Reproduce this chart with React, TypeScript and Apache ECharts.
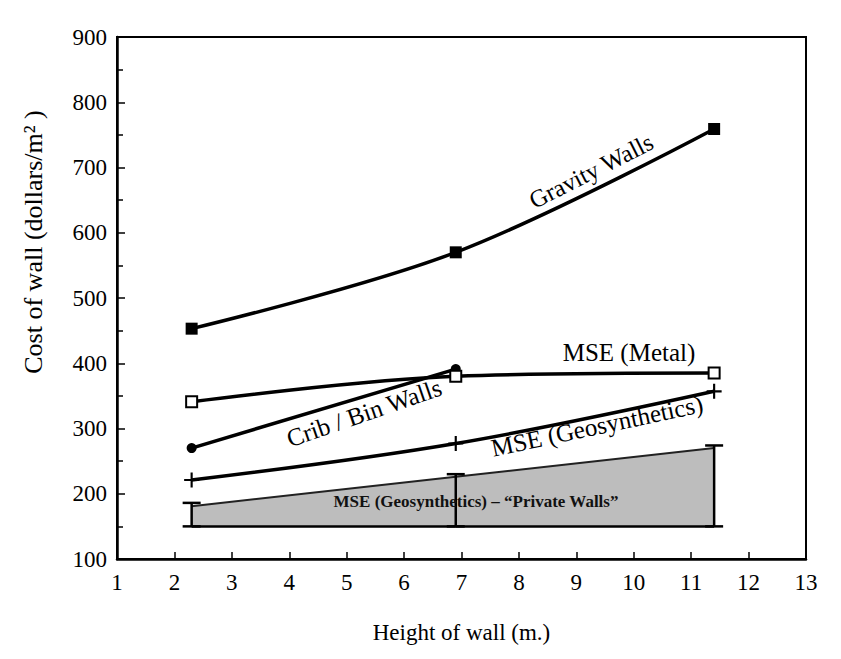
import React, { useEffect, useRef } from "react";
import * as echarts from "echarts";

// Data
const heights = [2.3, 6.9, 11.4];
const gravityCost = [453, 570, 759];
const metalCost = [341, 380, 385];
const cribHeights = [2.3, 6.9];
const cribCost = [270, 391];
const geoCost = [221, 277, 357];
const privateLow = [150, 150, 150];
const privateHigh = [181, 226, 270];
const privateErrHigh = [186, 230, 274];

const xMin = 1;
const xMax = 13;
const yMin = 100;
const yMax = 900;

const FONT = "Liberation Serif";

const pairs = (xs: number[], ys: number[]) => xs.map((x, i) => [x, ys[i]]);

const plusSymbol = "path://M6,0H8V6H14V8H8V14H6V8H0V6H6Z";

export default function App() {
  const ref = useRef<HTMLDivElement>(null);

  useEffect(() => {
    if (!ref.current) return;
    const chart = echarts.init(ref.current, null, { renderer: "svg" });

    const lineBase = {
      type: "line" as const,
      smooth: 0.35,
      lineStyle: { color: "#000", width: 3.5 },
      z: 5,
    };

    const txt = (size: number, weight = "normal") => ({
      fontFamily: FONT,
      fontSize: size,
      fontWeight: weight,
      fill: "#000",
      align: "center",
      verticalAlign: "middle",
    });

    // band segments between consecutive heights
    const bandSegments = heights.slice(0, -1).map((x, i) => [
      x,
      heights[i + 1],
      privateLow[i],
      privateLow[i + 1],
      privateHigh[i],
      privateHigh[i + 1],
    ]);

    const option: any = {
      animation: false,
      backgroundColor: "#fff",
      textStyle: { fontFamily: FONT },
      grid: {
        left: 117,
        right: 35,
        top: 37,
        bottom: 100,
        show: true,
        borderColor: "#000",
        borderWidth: 2,
        backgroundColor: "transparent",
      },
      xAxis: {
        type: "value",
        min: xMin,
        max: xMax,
        interval: 1,
        name: "Height of wall (m.)",
        nameLocation: "middle",
        nameGap: 62,
        nameTextStyle: { fontFamily: FONT, fontSize: 23, color: "#000" },
        axisLine: { show: true, onZero: false, lineStyle: { color: "#000", width: 2.5 } },
        axisTick: { show: true, inside: true, length: 7, lineStyle: { color: "#000", width: 1.5 } },
        axisLabel: { fontFamily: FONT, fontSize: 23, color: "#000", margin: 12 },
        splitLine: { show: false },
      },
      yAxis: {
        type: "value",
        min: yMin,
        max: yMax,
        interval: 100,
        axisLine: { show: true, onZero: false, lineStyle: { color: "#000", width: 2.5 } },
        axisTick: { show: true, inside: true, length: 8, lineStyle: { color: "#000", width: 1.5 } },
        minorTick: { show: true, splitNumber: 2, length: 6, lineStyle: { color: "#000", width: 1.5 } },
        axisLabel: { fontFamily: FONT, fontSize: 23, color: "#000", margin: 10 },
        splitLine: { show: false },
      },
      graphic: [
        {
          type: "text",
          x: 33,
          y: 242,
          rotation: Math.PI / 2,
          style: { text: "Cost of wall (dollars/m² )", ...txt(26) },
        },
        {
          type: "text",
          x: 591,
          y: 171,
          rotation: (27 * Math.PI) / 180,
          style: { text: "Gravity Walls", ...txt(24.5) },
          z: 20,
        },
        {
          type: "text",
          x: 629,
          y: 352,
          style: { text: "MSE (Metal)", ...txt(25) },
          z: 20,
        },
        {
          type: "text",
          x: 364,
          y: 413,
          rotation: (19 * Math.PI) / 180,
          style: { text: "Crib / Bin Walls", ...txt(25) },
          z: 20,
        },
        {
          type: "text",
          x: 597,
          y: 426,
          rotation: (12 * Math.PI) / 180,
          style: { text: "MSE (Geosynthetics)", ...txt(25) },
          z: 20,
        },
        {
          type: "text",
          x: 476,
          y: 501,
          style: { text: "MSE (Geosynthetics) – “Private Walls”", ...txt(17, "bold"), fill: "#111" },
          z: 20,
        },
      ],
      series: [
        {
          name: "Private walls",
          type: "custom",
          data: bandSegments,
          renderItem: (params: any, api: any) => {
            const x0 = api.value(0);
            const x1 = api.value(1);
            const bl = api.coord([x0, api.value(2)]);
            const br = api.coord([x1, api.value(3)]);
            const tl = api.coord([x0, api.value(4)]);
            const tr = api.coord([x1, api.value(5)]);
            return {
              type: "group",
              children: [
                {
                  type: "polygon",
                  shape: { points: [bl, br, tr, tl] },
                  style: { fill: "#bdbdbd", stroke: "none" },
                },
                {
                  type: "line",
                  shape: { x1: tl[0], y1: tl[1], x2: tr[0], y2: tr[1] },
                  style: { stroke: "#222", lineWidth: 2 },
                },
                {
                  type: "line",
                  shape: { x1: bl[0], y1: bl[1], x2: br[0], y2: br[1] },
                  style: { stroke: "#000", lineWidth: 2.5 },
                },
              ],
            };
          },
          z: 2,
        },
        {
          name: "Private range",
          type: "custom",
          data: heights.map((x, i) => [x, privateLow[i], privateErrHigh[i]]),
          renderItem: (params: any, api: any) => {
            const x = api.value(0);
            const lo = api.coord([x, api.value(1)]);
            const hi = api.coord([x, api.value(2)]);
            const w = 9;
            const st = { stroke: "#000", lineWidth: 2.5 };
            return {
              type: "group",
              children: [
                { type: "line", shape: { x1: lo[0], y1: lo[1], x2: hi[0], y2: hi[1] }, style: st },
                { type: "line", shape: { x1: hi[0] - w, y1: hi[1], x2: hi[0] + w, y2: hi[1] }, style: st },
                { type: "line", shape: { x1: lo[0] - w, y1: lo[1], x2: lo[0] + w, y2: lo[1] }, style: st },
              ],
            };
          },
          z: 4,
        },
        {
          ...lineBase,
          name: "MSE (Geosynthetics)",
          data: pairs(heights, geoCost),
          symbol: plusSymbol,
          symbolSize: 15,
          itemStyle: { color: "#000" },
        },
        {
          ...lineBase,
          name: "Crib / Bin Walls",
          data: pairs(cribHeights, cribCost),
          symbol: "circle",
          symbolSize: 10,
          itemStyle: { color: "#000" },
        },
        {
          ...lineBase,
          name: "MSE (Metal)",
          data: pairs(heights, metalCost),
          symbol: "rect",
          symbolSize: 11,
          itemStyle: { color: "#fff", borderColor: "#000", borderWidth: 2 },
        },
        {
          ...lineBase,
          name: "Gravity Walls",
          data: pairs(heights, gravityCost),
          symbol: "rect",
          symbolSize: 12,
          itemStyle: { color: "#000" },
        },
      ],
    };

    chart.setOption(option);
    return () => chart.dispose();
  }, []);

  return (
    <div
      ref={ref}
      style={{ position: "fixed", left: 0, top: 0, width: 841, height: 659, background: "#fff" }}
    />
  );
}
